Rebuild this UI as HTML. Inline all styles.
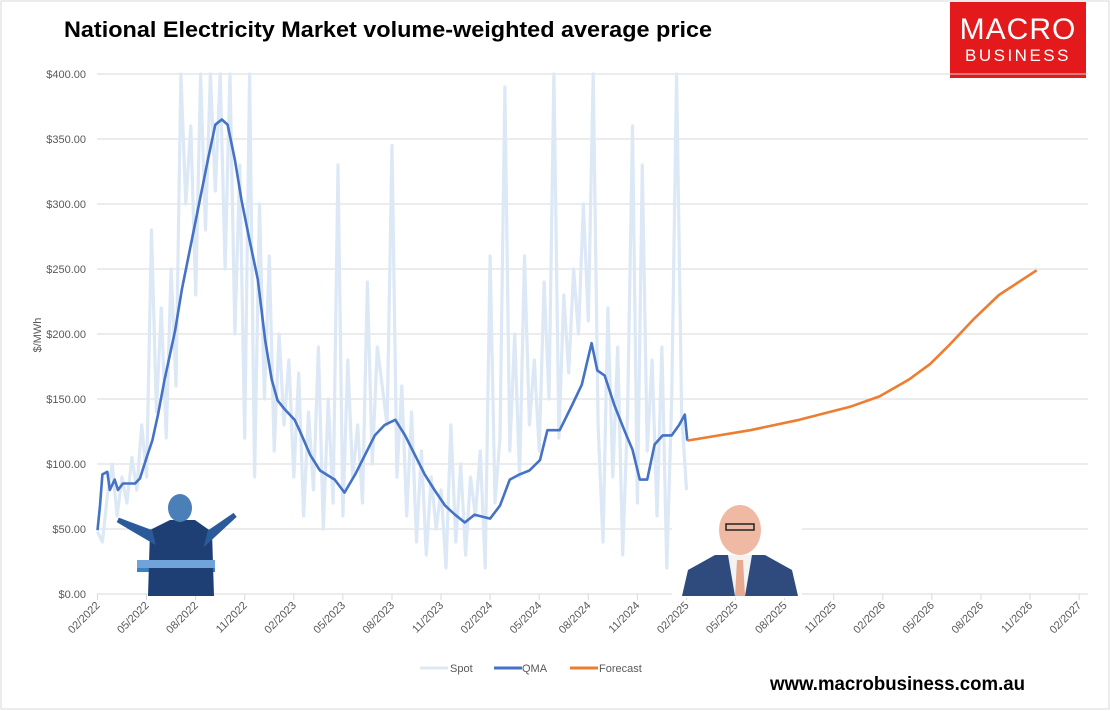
<!DOCTYPE html>
<html><head><meta charset="utf-8">
<style>
html,body{margin:0;padding:0;background:#fff;}
svg{display:block;font-family:"Liberation Sans",sans-serif;}
</style></head>
<body>
<svg id="chart" width="1110" height="711" viewBox="0 0 1110 711">
<rect x="1" y="1" width="1108" height="708" fill="#fff" stroke="#d9d9d9"/>
<text x="64" y="37" font-size="22" font-weight="bold" fill="#000" textLength="648" lengthAdjust="spacingAndGlyphs">National Electricity Market volume-weighted average price</text>
<g>
<rect x="950" y="2" width="136" height="76" fill="#e3191b"/>
<text x="1018" y="39" font-size="30" fill="#fff" text-anchor="middle" letter-spacing="1">MACRO</text>
<text x="1018" y="61" font-size="17" fill="#fff" text-anchor="middle" letter-spacing="2.5">BUSINESS</text>
</g>
<text transform="translate(41,335) rotate(-90)" font-size="11" fill="#595959" text-anchor="middle">$/MWh</text>
<g id="grid"></g>
<g id="yticks"></g>
<g id="xticks"></g>
<g id="series"></g>
<g>
<rect x="137" y="560" width="78" height="12" fill="#3b7fc4"/>
<path d="M148 596 L150 530 L170 520 L195 520 L212 532 L214 596 Z" fill="#1e3f73"/>
<path d="M118 520 L150 532 L152 540 Z M235 515 L210 532 L208 540 Z" fill="#2a5a9a" stroke="#2a5a9a" stroke-width="5"/>
<ellipse cx="180" cy="508" rx="12" ry="14" fill="#4a7fb8"/>
<rect x="137" y="560" width="78" height="8" fill="#6fa3d9"/>
</g>
<g>
<rect x="672" y="500" width="130" height="98" fill="#fff"/>
<path d="M682 596 L688 570 L715 555 L765 555 L792 570 L798 596 Z" fill="#2f4a7c"/>
<path d="M728 555 L752 555 L745 596 L735 596 Z" fill="#f3f3f3"/>
<path d="M737 560 L743 560 L745 596 L735 596 Z" fill="#e7a98f"/>
<ellipse cx="740" cy="530" rx="21" ry="25" fill="#f0b9a3"/>
<rect x="726" y="524" width="28" height="6" fill="none" stroke="#222" stroke-width="1.5"/>
</g>
<g>
<line x1="420" y1="668" x2="448" y2="668" stroke="#dce8f5" stroke-width="3"/>
<text x="450" y="672" font-size="11" fill="#595959">Spot</text>
<line x1="494" y1="668" x2="522" y2="668" stroke="#4472c4" stroke-width="3"/>
<text x="522" y="672" font-size="11" fill="#595959">QMA</text>
<line x1="570" y1="668" x2="598" y2="668" stroke="#ed7d31" stroke-width="3"/>
<text x="599" y="672" font-size="11" fill="#595959">Forecast</text>
</g>
<text x="770" y="690" font-size="19" font-weight="bold" fill="#000" textLength="255" lengthAdjust="spacingAndGlyphs">www.macrobusiness.com.au</text>
</svg>
<script>
// months since 02/2022
const spotStart = 0, spotStep = 0.3;
const spotValues = [48,40,75,100,60,90,70,105,80,130,
90,280,140,220,120,250,160,400,300,360,
230,400,280,400,310,400,250,400,200,330,
120,400,90,300,150,260,110,200,130,180,
90,170,60,140,80,190,50,150,70,330,
60,180,90,130,70,240,100,190,160,130,
345,90,160,60,140,40,110,30,90,50,
80,20,130,40,100,30,90,60,110,20,
260,70,120,390,110,200,90,260,130,180,
110,240,150,400,120,230,170,250,200,300,
210,400,130,40,220,90,190,30,140,360,
70,330,110,180,60,190,20,150,400,140,80];
const qmaMonths = [0,0.15,0.3,0.6,0.75,1.05,1.25,1.55,2.3,2.6,3.0,3.35,3.7,4.1,4.75,5.15,5.65,6.25,6.75,7.2,7.6,7.95,8.4,8.8,9.3,9.8,10.25,10.65,11.0,11.45,12.05,12.35,13.0,13.6,14.5,15.1,15.75,16.35,16.95,17.55,18.2,18.8,19.4,20.0,20.6,21.25,21.85,22.45,23.05,24.0,24.6,25.2,25.8,26.4,27.05,27.5,28.25,29.0,29.6,30.2,30.55,31.0,31.6,32.2,32.7,33.15,33.6,34.05,34.55,35.1,35.55,35.9,36.05];
const qmaValues = [49,68,92,94,80,88,80,85,85,89,105,118,138,165,203,234,265,303,334,361,365,361,334,303,272,242,195,165,149,142,134,126,107,95,88,78,92,107,122,130,134,122,107,92,80,68,61,55,61,58,68,88,92,95,103,126,126,145,161,193,172,168,145,126,111,88,88,115,122,122,130,138,118];
const forecastMonths = [36.05,39.9,42.9,46,47.8,49.6,50.9,52.1,53.6,55.1,57.4];
const forecastValues = [118,126,134,144,152,165,177,192,212,230,249];
const yTickValues = [0,50,100,150,200,250,300,350,400];
const xTickLabels = ["02/2022","05/2022","08/2022","11/2022","02/2023","05/2023","08/2023","11/2023","02/2024","05/2024","08/2024","11/2024","02/2025","05/2025","08/2025","11/2025","02/2026","05/2026","08/2026","11/2026","02/2027"];

const NS = "http://www.w3.org/2000/svg";
const X0 = 97.5, PXM = 49.08/3, Y0 = 594, PXV = 520/400;
const xs = m => X0 + m*PXM;
const ys = v => Y0 - Math.min(v,400)*PXV;
function mk(tag, attrs, parent){const e=document.createElementNS(NS,tag);for(const k in attrs)e.setAttribute(k,attrs[k]);parent.appendChild(e);return e;}

const yg = document.getElementById('yticks');
yTickValues.forEach(v=>{
  const l = mk('line',{x1:97,x2:1088,y1:ys(v),y2:ys(v),stroke:'#d9d9d9','stroke-width':1},yg);
  
  
  const t = mk('text',{x:86,y:ys(v)+4,'font-size':11,fill:'#595959','text-anchor':'end'},yg);
  t.textContent = '$'+v.toFixed(2);
  
  
});
const xg = document.getElementById('xticks');
xTickLabels.forEach((s,i)=>{
  const x = xs(i*3);
  const tk = mk('line',{x1:x,x2:x,y1:594,y2:600,stroke:'#d9d9d9'},xg);
  
  
  const t = mk('text',{transform:`translate(${x+3},${606}) rotate(-45)`,'font-size':11,fill:'#595959','text-anchor':'end'},xg);
  t.textContent = s;
  
  
});
const sg = document.getElementById('series');
const spotPts = spotValues.map((v,i)=>xs(spotStart+i*spotStep).toFixed(1)+','+ys(v).toFixed(1)).join(' ');
const sp = mk('polyline',{points:spotPts,fill:'none',stroke:'#dce8f5','stroke-width':3.2,'stroke-linejoin':'round'},sg);


const qp = mk('polyline',{points:qmaMonths.map((m,i)=>xs(m).toFixed(1)+','+ys(qmaValues[i]).toFixed(1)).join(' '),fill:'none',stroke:'#4472c4','stroke-width':2.6,'stroke-linejoin':'round'},sg);


const fp = mk('polyline',{points:forecastMonths.map((m,i)=>xs(m).toFixed(1)+','+ys(forecastValues[i]).toFixed(1)).join(' '),fill:'none',stroke:'#ed7d31','stroke-width':2.6,'stroke-linejoin':'round'},sg);


</script>
</body></html>
